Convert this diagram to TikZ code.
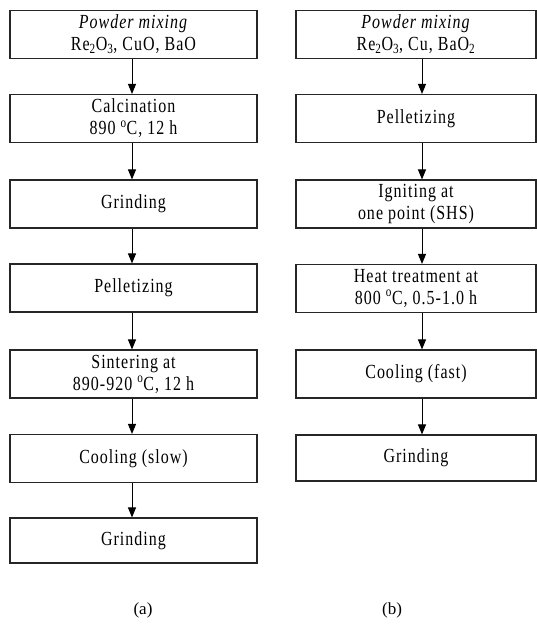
\documentclass[tikz,border=0pt]{standalone}
\usepackage{fontspec}
\setmainfont[FakeStretch=0.8,LetterSpace=5]{Liberation Serif}
\newfontfamily\lblfont{Liberation Serif}
\usetikzlibrary{arrows.meta}
\begin{document}
\begin{tikzpicture}[x=1pt,y=-1pt,
  box/.style={draw=black!85, line width=1.1pt, minimum height=48pt, inner sep=0pt,
    align=center, font=\fontsize{20}{22}\selectfont},
  lbox/.style={box, minimum width=247pt},
  rbox/.style={box, minimum width=240pt},
  arr/.style={-{Triangle[width=8pt,length=10pt]}, line width=1pt},
  lbl/.style={font=\lblfont\fontsize{17}{19}\selectfont}]
\path[use as bounding box] (0,0) rectangle (537,627);
% left column (a)
\node[lbox] (a1) at (133.5,34.5) {\textit{Powder mixing}\\Re\textsubscript{2}O\textsubscript{3}, CuO, BaO};
\node[lbox] (a2) at (133.5,118.5) {Calcination\\890 \textsuperscript{o}C, 12 h};
\node[lbox] (a3) at (133.5,204) {Grinding};
\node[lbox] (a4) at (133.5,288) {Pelletizing};
\node[lbox] (a5) at (133.5,374) {Sintering at\\890-920 \textsuperscript{o}C, 12 h};
\node[lbox] (a6) at (133.5,458.5) {Cooling (slow)};
\node[lbox, minimum height=45pt] (a7) at (133.5,540.5) {Grinding};
\foreach \i/\j in {a1/a2,a2/a3,a3/a4,a4/a5,a5/a6,a6/a7}
  \draw[arr] ([xshift=-1.5pt]\i.south) -- ([xshift=-1.5pt]\j.north);
% right column (b)
\node[rbox] (b1) at (416,34.5) {\textit{Powder mixing}\\Re\textsubscript{2}O\textsubscript{3}, Cu, BaO\textsubscript{2}};
\node[rbox] (b2) at (416,118.5) {Pelletizing};
\node[rbox] (b3) at (416,204) {Igniting at\\one point (SHS)};
\node[rbox] (b4) at (416,288.5) {Heat treatment at\\800 \textsuperscript{o}C, 0.5-1.0 h};
\node[rbox] (b5) at (416,374) {Cooling (fast)};
\node[rbox, minimum height=46pt] (b6) at (416,458) {Grinding};
\foreach \i/\j in {b1/b2,b2/b3,b3/b4,b4/b5,b5/b6}
  \draw[arr] ([xshift=6pt]\i.south) -- ([xshift=6pt]\j.north);
% captions
\node[lbl] (capa) at (143,610) {(a)};
\node[lbl] (capb) at (392,610) {(b)};
\end{tikzpicture}
\end{document}
